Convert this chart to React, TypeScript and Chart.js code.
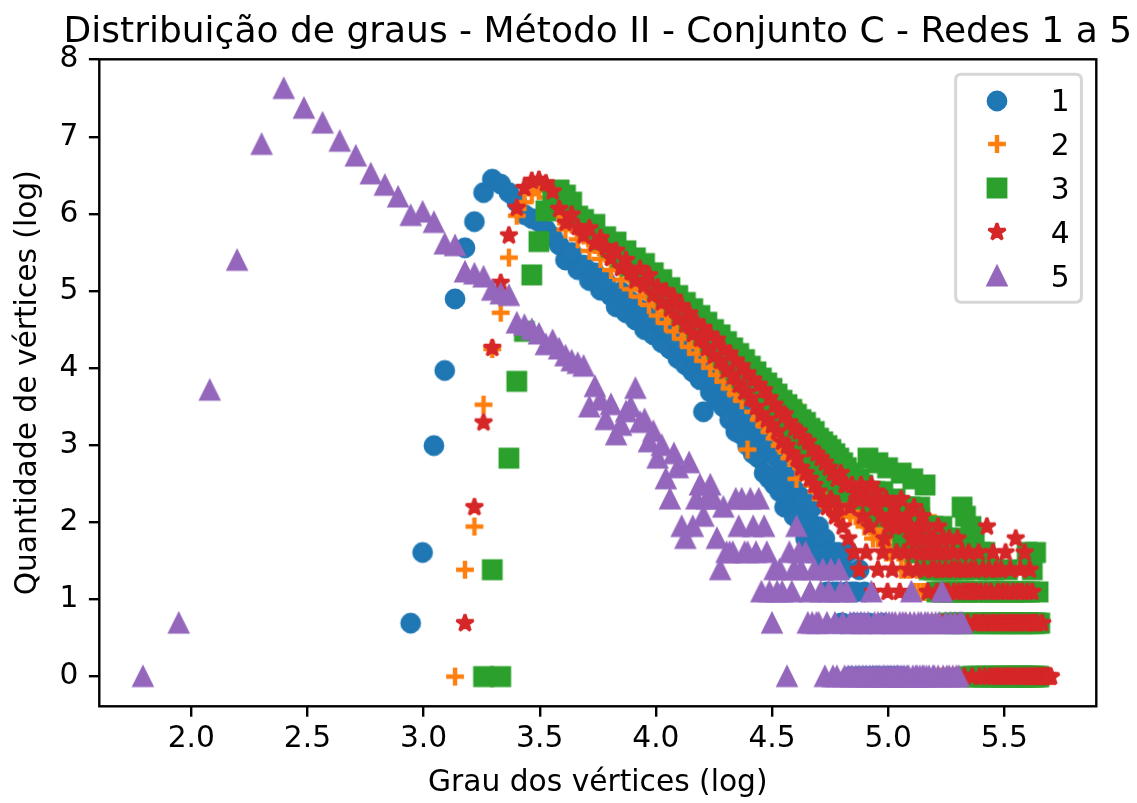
import React, { useEffect, useRef } from 'react';
import { Chart, registerables } from 'chart.js';

Chart.register(...registerables);

// ---------- text ----------
const chartTitle = 'Distribuição de graus - Método II - Conjunto C - Redes 1 a 5';
const xAxisLabel = 'Grau dos vértices (log)';
const yAxisLabel = 'Quantidade de vértices (log)';
const seriesLabels = ['1', '2', '3', '4', '5'];
const xTicks = [2.0, 2.5, 3.0, 3.5, 4.0, 4.5, 5.0, 5.5];
const yTicks = [0, 1, 2, 3, 4, 5, 6, 7, 8];

// ---------- data: degree distributions (number of vertices for each successive degree, 0 = none) ----------
const rede1FirstDegree = 19;
const rede1Counts = [
  2, 5, 20, 53, 134, 260, 365, 532, 633, 594,
  532, 470, 400, 380, 365, 330, 300, 270, 222, 245,
  196, 208, 170, 188, 150, 168, 139, 121, 147, 112,
  130, 102, 117, 90, 108, 84, 99, 76, 89, 70,
  82, 62, 75, 57, 68, 52, 64, 47, 31, 55,
  40, 50, 36, 46, 33, 41, 28, 36, 24, 32,
  23, 30, 20, 27, 18, 25, 17, 23, 14, 20,
  13, 18, 12, 17, 11, 15, 9, 14, 9, 13,
  8, 11, 9, 7, 10, 6, 8, 5, 9, 6,
  5, 7, 5, 4, 6, 3, 5, 4, 3, 5,
  3, 5, 2, 2, 4, 3, 5, 1, 3, 2,
  3, 1, 4, 2, 1, 3, 1, 0, 2, 1,
  0, 1, 0, 1, 1, 0, 2, 0, 1, 0,
  1, 1, 0, 0, 1, 0, 1, 0, 0, 1,
];

const rede2FirstDegree = 23;
const rede2Counts = [
  1, 4, 7, 34, 70, 112, 229, 394, 470, 521,
  545, 500, 430, 390, 330, 352, 290, 305, 250, 270,
  225, 240, 195, 212, 172, 188, 152, 168, 138, 150,
  124, 134, 108, 120, 98, 110, 88, 100, 80, 90,
  72, 82, 66, 75, 60, 69, 55, 63, 50, 58,
  46, 53, 42, 49, 39, 45, 36, 41, 19, 38,
  31, 35, 28, 33, 26, 30, 24, 28, 22, 26,
  20, 24, 19, 22, 17, 20, 34, 13, 18, 15,
  15, 16, 13, 15, 12, 14, 11, 13, 10, 12,
  10, 11, 9, 10, 9, 10, 8, 9, 8, 8,
  10, 9, 10, 8, 9, 10, 8, 9, 10, 8,
  9, 7, 9, 8, 7, 9, 6, 8, 7, 6,
  8, 7, 6, 8, 5, 7, 6, 5, 7, 6,
  9, 6, 5, 7, 4, 6, 5, 4, 6, 5,
  4, 6, 5, 3, 5, 4, 3, 5, 4, 3,
  4, 3, 2, 8, 4, 3, 2, 4, 3, 2,
  3, 2, 4, 1, 3, 2, 1, 3, 2, 1,
  2, 1, 3, 1, 2, 1, 1, 2, 1, 1,
  1, 2, 1, 1, 2, 1, 1, 2, 1, 1,
  2, 1, 1, 1, 2, 1, 1, 1, 2, 1,
  1, 1, 2, 1, 1, 1, 1, 1,
];

const rede3FirstDegree = 26;
const rede3Counts = [
  1, 4, 1, 17, 46, 88, 183, 282, 420, 525,
  550, 515, 470, 392, 375, 330, 352, 290, 300, 262,
  280, 230, 250, 205, 228, 185, 212, 170, 188, 150,
  172, 138, 155, 126, 140, 110, 128, 100, 118, 92,
  108, 84, 99, 76, 90, 70, 84, 63, 77, 58,
  71, 53, 66, 48, 61, 45, 56, 41, 52, 38,
  48, 35, 45, 32, 42, 30, 39, 28, 36, 26,
  34, 24, 32, 23, 30, 21, 28, 20, 27, 18,
  25, 17, 24, 16, 22, 15, 21, 14, 20, 13,
  19, 13, 18, 12, 17, 12, 16, 11, 15, 11,
  14, 12, 13, 12, 11, 13, 11, 12, 10, 11,
  17, 10, 11, 9, 11, 10, 16, 10, 8, 11,
  9, 8, 15, 9, 8, 9, 7, 10, 8, 7,
  9, 14, 6, 9, 7, 8, 6, 9, 7, 13,
  8, 5, 7, 6, 9, 5, 7, 6, 12, 5,
  7, 4, 6, 5, 7, 4, 6, 3, 5, 6,
  4, 7, 3, 5, 4, 6, 2, 5, 3, 4,
  6, 2, 5, 3, 4, 2, 6, 3, 9, 2,
  4, 8, 3, 1, 5, 2, 7, 3, 1, 6,
  2, 4, 1, 3, 2, 5, 1, 3, 2, 5,
  1, 2, 4, 1, 3, 2, 1, 2, 4, 1,
  3, 2, 1, 2, 3, 1, 2, 1, 3, 2,
  1, 2, 4, 1, 2, 1, 3, 1, 2, 1,
  3, 2, 1, 2, 1, 3, 1, 2, 1, 2,
  1, 3, 2, 1, 5, 2, 1, 3, 1, 2,
  4, 1, 2, 1, 5, 2, 1, 3, 1, 2,
];

const rede4FirstDegree = 24;
const rede4Counts = [
  2, 9, 27, 71, 165, 305, 437, 565, 620, 628,
  600, 540, 430, 360, 400, 340, 305, 335, 275, 295,
  262, 228, 250, 200, 222, 190, 170, 198, 160, 182,
  142, 156, 128, 148, 118, 136, 104, 122, 96, 111,
  85, 99, 80, 92, 71, 84, 64, 79, 60, 70,
  53, 66, 49, 60, 44, 56, 40, 51, 37, 47,
  33, 44, 30, 41, 28, 37, 26, 34, 24, 31,
  21, 30, 20, 27, 18, 25, 17, 24, 15, 22,
  14, 21, 13, 19, 12, 18, 11, 17, 10, 16,
  9, 15, 10, 14, 8, 13, 9, 14, 7, 12,
  12, 6, 9, 12, 5, 11, 10, 4, 12, 8,
  11, 5, 10, 7, 12, 3, 9, 11, 4, 10,
  8, 5, 6, 10, 3, 7, 8, 4, 9, 7,
  5, 8, 3, 10, 7, 5, 2, 8, 4, 7,
  6, 5, 9, 6, 4, 7, 5, 6, 8, 4,
  5, 7, 3, 6, 5, 4, 6, 4, 5, 3,
  7, 4, 5, 2, 6, 3, 4, 5, 3, 6,
  2, 4, 5, 3, 4, 2, 6, 3, 4, 2,
  5, 3, 1, 4, 3, 2, 5, 3, 4, 1,
  3, 2, 4, 3, 2, 5, 1, 3, 2, 4,
  2, 1, 3, 7, 2, 4, 1, 3, 2, 5,
  1, 2, 4, 1, 3, 2, 1, 4, 2, 3,
  1, 2, 5, 1, 3, 2, 1, 4, 2, 1,
  3, 2, 1, 6, 2, 3, 1, 2, 4, 1,
  3, 2, 1, 5, 2, 1, 3, 2, 1, 4,
  1, 2, 3, 1, 2, 1, 2, 1, 2, 1,
  0, 1, 1, 0, 2, 1, 0, 1, 1, 0,
  1, 0, 1, 0, 1, 1,
];

const rede5FirstDegree = 6;
const rede5Counts = [
  1, 2, 41, 221, 994, 2050, 1588, 1310, 1035, 854,
  678, 585, 502, 395, 413, 361, 273, 267, 190, 185,
  178, 150, 143, 140, 98, 95, 90, 85, 74, 78,
  70, 64, 60, 58, 56, 33, 43, 36, 28, 34,
  23, 26, 31, 33, 42, 27, 28, 21, 24, 17,
  20, 13, 10, 18, 15, 7, 6, 16, 7, 10,
  12, 8, 10, 12, 10, 6, 4, 9, 5, 5,
  5, 10, 7, 10, 5, 5, 10, 7, 5, 10,
  3, 7, 5, 3, 2, 4, 3, 4, 3, 0,
  1, 5, 3, 4, 7, 5, 4, 0, 5, 2,
  3, 2, 4, 2, 2, 3, 4, 1, 2, 3,
  4, 1, 2, 1, 4, 3, 2, 1, 3, 1,
  2, 1, 2, 1, 2, 1, 2, 1, 2, 1,
  2, 1, 3, 1, 2, 1, 2, 1, 2, 1,
  1, 2, 1, 2, 1, 2, 1, 2, 1, 1,
  2, 1, 2, 1, 2, 1, 1, 2, 3, 1,
  2, 1, 1, 2, 1, 2, 1, 1, 2, 1,
  2, 1, 0, 2, 1, 1, 2, 0, 1, 2,
  0, 3, 1, 0, 2, 1, 0, 1, 2, 0,
  1, 0, 2, 1, 0, 1, 2, 0, 2, 0,
];

// ---------- styling ----------
const seriesColors = ['#1f77b4', '#ff7f0e', '#2ca02c', '#d62728', '#9467bd'];
const seriesShapes = ['circle', 'plus', 'square', 'star', 'triangle'];
const FONT = '"DejaVu Sans", "Liberation Sans", sans-serif';
const FS = 29.7; // 10pt
const TITLE_FS = 36.0; // 12pt
const MARKER = 17.8;
const EDGE = 3;

function makeMarker(shape: string, color: string): HTMLCanvasElement {
  const S = 30;
  const c = document.createElement('canvas');
  c.width = S;
  c.height = S;
  const g = c.getContext('2d') as CanvasRenderingContext2D;
  g.translate(S / 2, S / 2);
  g.fillStyle = color;
  g.strokeStyle = color;
  g.lineWidth = EDGE;
  const r = MARKER / 2;
  g.beginPath();
  if (shape === 'circle') {
    g.arc(0, 0, r, 0, Math.PI * 2);
    g.fill();
    g.stroke();
  } else if (shape === 'plus') {
    g.lineWidth = 4.4;
    g.lineCap = 'butt';
    g.moveTo(-r, 0);
    g.lineTo(r, 0);
    g.moveTo(0, -r);
    g.lineTo(0, r);
    g.stroke();
  } else if (shape === 'square') {
    g.lineJoin = 'miter';
    g.rect(-r, -r, 2 * r, 2 * r);
    g.fill();
    g.stroke();
  } else if (shape === 'star') {
    g.lineJoin = 'bevel';
    const inner = r * 0.381966;
    for (let i = 0; i < 10; i++) {
      const rad = i % 2 === 0 ? r : inner;
      const a = -Math.PI / 2 + (i * Math.PI) / 5;
      const px = rad * Math.cos(a);
      const py = rad * Math.sin(a);
      if (i === 0) g.moveTo(px, py);
      else g.lineTo(px, py);
    }
    g.closePath();
    g.fill();
    g.stroke();
  } else {
    g.lineJoin = 'miter';
    g.moveTo(0, -r);
    g.lineTo(-r, r);
    g.lineTo(r, r);
    g.closePath();
    g.fill();
    g.stroke();
  }
  return c;
}

function toPoints(first: number, counts: number[]) {
  const pts: { x: number; y: number }[] = [];
  counts.forEach((c, i) => {
    if (c > 0) pts.push({ x: Math.log(first + i), y: Math.log(c) });
  });
  return pts;
}

export default function App() {
  const ref = useRef<HTMLCanvasElement>(null);

  useEffect(() => {
    const canvas = ref.current;
    if (!canvas) return;
    const markers = seriesColors.map((col, i) => makeMarker(seriesShapes[i], col));
    const series = [
      toPoints(rede1FirstDegree, rede1Counts),
      toPoints(rede2FirstDegree, rede2Counts),
      toPoints(rede3FirstDegree, rede3Counts),
      toPoints(rede4FirstDegree, rede4Counts),
      toPoints(rede5FirstDegree, rede5Counts),
    ];

    const decor = {
      id: 'mplDecor',
      afterDraw(chart: any) {
        const { ctx, chartArea: a } = chart;
        ctx.save();
        // spines
        ctx.strokeStyle = '#000';
        ctx.lineWidth = 2.4;
        ctx.strokeRect(a.left, a.top, a.right - a.left, a.bottom - a.top);
        // title
        ctx.fillStyle = '#000';
        ctx.textAlign = 'center';
        ctx.textBaseline = 'alphabetic';
        ctx.font = `${TITLE_FS}px ${FONT}`;
        ctx.fillText(chartTitle, (a.left + a.right) / 2, a.top - 17.8);
        // axis labels
        ctx.font = `${FS}px ${FONT}`;
        ctx.fillText(xAxisLabel, (a.left + a.right) / 2, 791);
        ctx.save();
        ctx.translate(36, (a.top + a.bottom) / 2);
        ctx.rotate(-Math.PI / 2);
        ctx.fillText(yAxisLabel, 0, 0);
        ctx.restore();
        // legend
        const pad = 0.4 * FS;
        const handleLen = 2.0 * FS;
        const textPad = 0.8 * FS;
        const rowH = 29;
        const spacing = 0.5 * FS;
        ctx.font = `${FS}px ${FONT}`;
        const textW = Math.max(...seriesLabels.map((s) => ctx.measureText(s).width));
        const w = pad * 2 + handleLen + textPad + textW;
        const h = pad * 2 + rowH * seriesLabels.length + spacing * (seriesLabels.length - 1);
        const right = a.right - 0.5 * FS;
        const top = a.top + 0.5 * FS;
        const left = right - w;
        const rr = 0.2 * FS;
        ctx.beginPath();
        ctx.moveTo(left + rr, top);
        ctx.lineTo(left + w - rr, top);
        ctx.quadraticCurveTo(left + w, top, left + w, top + rr);
        ctx.lineTo(left + w, top + h - rr);
        ctx.quadraticCurveTo(left + w, top + h, left + w - rr, top + h);
        ctx.lineTo(left + rr, top + h);
        ctx.quadraticCurveTo(left, top + h, left, top + h - rr);
        ctx.lineTo(left, top + rr);
        ctx.quadraticCurveTo(left, top, left + rr, top);
        ctx.closePath();
        ctx.fillStyle = 'rgba(255,255,255,0.8)';
        ctx.fill();
        ctx.strokeStyle = 'rgba(204,204,204,0.8)';
        ctx.lineWidth = 3;
        ctx.stroke();
        ctx.textAlign = 'left';
        ctx.fillStyle = '#000';
        seriesLabels.forEach((lab, i) => {
          const cy = top + pad + rowH / 2 + i * (rowH + spacing);
          const mx = left + pad + handleLen / 2;
          const m = markers[i];
          ctx.drawImage(m, Math.round(mx - m.width / 2), Math.round(cy - m.height / 2));
          ctx.fillText(lab, left + pad + handleLen + textPad, cy + 10.8);
        });
        ctx.restore();
      },
    };

    const chart = new Chart(canvas, {
      type: 'scatter',
      data: {
        datasets: series.map((pts, i) => ({
          label: seriesLabels[i],
          data: pts,
          pointStyle: markers[i] as any,
          pointRadius: 10,
          order: series.length - i,
          backgroundColor: seriesColors[i],
          borderColor: seriesColors[i],
        })),
      },
      options: {
        responsive: false,
        animation: false,
        devicePixelRatio: 1,
        events: [],
        layout: { padding: { left: 0, top: 59.3, right: 1137 - 1096.3, bottom: 0 } },
        plugins: {
          legend: { display: false },
          title: { display: false },
          tooltip: { enabled: false },
        },
        scales: {
          x: {
            type: 'linear',
            min: 1.604,
            max: 5.896,
            afterBuildTicks: (s: any) => {
              s.ticks = xTicks.map((v) => ({ value: v }));
            },
            afterFit: (s: any) => {
              s.height = 803 - 706.3;
            },
            ticks: {
              autoSkip: false,
              maxRotation: 0,
              minRotation: 0,
              padding: 4.3,
              color: '#000',
              font: { family: FONT, size: FS },
              callback: (v: any) => Number(v).toFixed(1),
            },
            grid: {
              drawOnChartArea: false,
              drawTicks: true,
              tickLength: 10.4,
              tickWidth: 2.4,
              lineWidth: 2.4,
              tickColor: '#000',
              color: '#000',
            },
            border: { display: false },
          },
          y: {
            type: 'linear',
            min: -0.385,
            max: 8.005,
            afterBuildTicks: (s: any) => {
              s.ticks = yTicks.map((v) => ({ value: v }));
            },
            afterFit: (s: any) => {
              s.width = 99.3;
            },
            ticks: {
              autoSkip: false,
              padding: 10.4,
              color: '#000',
              font: { family: FONT, size: FS },
              callback: (v: any) => String(v),
            },
            grid: {
              drawOnChartArea: false,
              drawTicks: true,
              tickLength: 10.4,
              tickWidth: 2.4,
              lineWidth: 2.4,
              tickColor: '#000',
              color: '#000',
            },
            border: { display: false },
          },
        },
      },
      plugins: [decor],
    } as any);

    return () => chart.destroy();
  }, []);

  return (
    <div style={{ position: 'absolute', left: 0, top: 0, width: 1137, height: 803, background: '#fff' }}>
      <canvas ref={ref} width={1137} height={803} style={{ width: 1137, height: 803, display: 'block' }} />
    </div>
  );
}
